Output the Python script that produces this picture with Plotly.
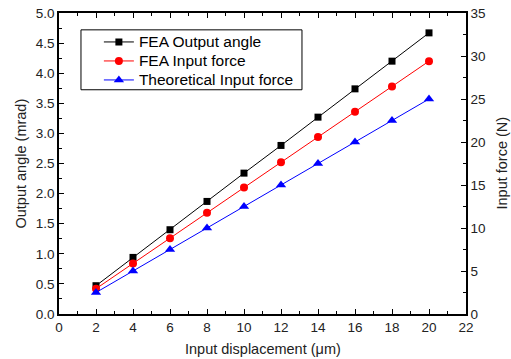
import plotly.graph_objects as go

displacement = [2, 4, 6, 8, 10, 12, 14, 16, 18, 20]
fea_output_angle = [0.47, 0.94, 1.40, 1.87, 2.34, 2.80, 3.27, 3.74, 4.20, 4.67]
fea_input_force = [2.94, 5.88, 8.82, 11.76, 14.70, 17.64, 20.58, 23.52, 26.46, 29.40]
theo_input_force = [2.5, 5.0, 7.5, 10.0, 12.5, 15.0, 17.5, 20.0, 22.5, 25.0]

family = "Liberation Sans, Arial, sans-serif"
tick_font = dict(family=family, size=13.5, color="#222")
title_font = dict(family=family, size=14.5, color="#222")


def legend_name(s):
    # bigger text than the legend font, keeps the rows tight
    return '<span style="font-size:15.5px">' + s + '</span>'


fig = go.Figure()
fig.add_trace(go.Scatter(x=displacement, y=fea_output_angle, name=legend_name("FEA Output angle"),
                         mode="lines+markers", line=dict(color="black", width=1),
                         marker=dict(symbol="square", size=7, color="black")))
fig.add_trace(go.Scatter(x=displacement, y=fea_input_force, name=legend_name("FEA Input force"),
                         mode="lines+markers", line=dict(color="red", width=1),
                         marker=dict(symbol="circle", size=8, color="red"), yaxis="y2"))
fig.add_trace(go.Scatter(x=displacement, y=theo_input_force, name=legend_name("Theoretical Input force"),
                         mode="lines+markers", line=dict(color="blue", width=1),
                         marker=dict(symbol="triangle-up", size=9, color="blue"), yaxis="y2"))

axis_common = dict(showgrid=False, zeroline=False, showline=True, linecolor="black", linewidth=1.5,
                   ticks="inside", ticklen=5, tickwidth=1, tickcolor="black", tickfont=tick_font,
                   automargin=False)

# legend frame drawn separately so the entries can sit further in
fig.add_shape(type="rect", xref="paper", yref="paper", x0=0.054, x1=0.597, y0=0.745, y1=0.944,
              line=dict(color="black", width=1), fillcolor="white", layer="below")

fig.add_annotation(text="Input displacement (μm)", xref="paper", yref="paper", x=0.5, y=0,
                   yanchor="middle", yshift=-35, showarrow=False, font=title_font)
fig.add_annotation(text="Output angle (mrad)", xref="paper", yref="paper", x=0, y=0.5,
                   xanchor="center", xshift=-39, textangle=-90, showarrow=False, font=title_font)
fig.add_annotation(text="Input force (N)", xref="paper", yref="paper", x=1, y=0.5,
                   xanchor="center", xshift=35, textangle=-90, showarrow=False, font=title_font)

fig.update_layout(
    width=511, height=359,
    margin=dict(l=59, r=45, t=13, b=45),
    paper_bgcolor="white", plot_bgcolor="white",
    font=tick_font,
    showlegend=True,
    legend=dict(x=0.098, y=0.952, xanchor="left", yanchor="top",
                borderwidth=0, bgcolor="rgba(0,0,0,0)",
                font=dict(family=family, size=12, color="black"),
                tracegroupgap=0),
    xaxis=dict(range=[0, 22], dtick=2, mirror="ticks",
               minor=dict(dtick=1, ticks="inside", ticklen=3, tickcolor="black"),
               **axis_common),
    yaxis=dict(range=[0, 5], dtick=0.5, tickformat=".1f",
               minor=dict(dtick=0.25, ticks="inside", ticklen=3, tickcolor="black"),
               **axis_common),
    yaxis2=dict(range=[0, 35], dtick=5, overlaying="y", side="right",
                minor=dict(dtick=2.5, ticks="inside", ticklen=3, tickcolor="black"),
                **axis_common),
)

fig.write_html("out.html", config={"displayModeBar": False},
               post_script="document.body.style.margin = '0';")
